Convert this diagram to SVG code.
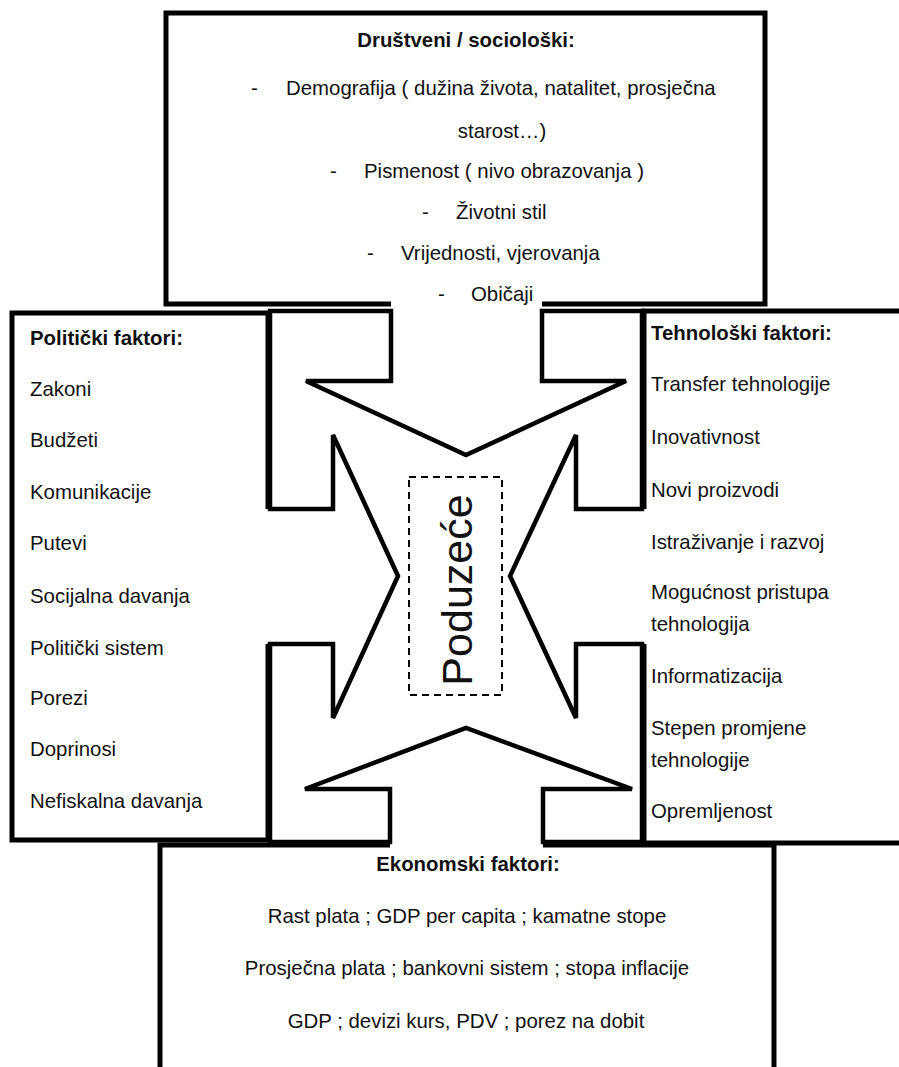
<svg xmlns="http://www.w3.org/2000/svg" width="899" height="1067" viewBox="0 0 899 1067">
<style>
.box{fill:none;stroke:#000;stroke-width:5;stroke-linejoin:miter}
.cross{fill:none;stroke:#000;stroke-width:4.5;stroke-linejoin:miter}
.t{font-family:"Liberation Sans",Arial,sans-serif;font-size:20.4px;fill:#111}
.h{font-weight:bold}
.c{text-anchor:middle}
.dash{fill:none;stroke:#000;stroke-width:2;stroke-dasharray:7 5}
</style>
<rect width="899" height="1067" fill="#fff"/>
<g id="connectors">
<polygon class="cross" points="270,311 391,311 391,381 306,381 466,455 626,381 542,381 542,311 642,311 642,509 576,509 576,435 510,576 576,718 576,644 642,644 642,842 543,842 543,789 632,789 466,728 305,789 390,789 390,842 270,842 270,644 333,644 333,718 398,576 333,435 333,509 270,509"/>
</g>
<g id="drustveni">
<path class="box" d="M391,304 L166,304 L166,13 L765,13 L765,304 L542,304"/>
<text class="t h c" x="466" y="47">Društveni / sociološki:</text>
<text class="t" x="251" y="95">-</text>
<text class="t" x="286" y="95">Demografija ( dužina života, natalitet, prosječna</text>
<text class="t c" x="502" y="138">starost…)</text>
<text class="t" x="330" y="178">-</text>
<text class="t" x="364" y="178">Pismenost ( nivo obrazovanja )</text>
<text class="t" x="422" y="219">-</text>
<text class="t" x="456" y="219">Životni stil</text>
<text class="t" x="367" y="260">-</text>
<text class="t" x="401" y="260">Vrijednosti, vjerovanja</text>
<text class="t" x="438" y="301">-</text>
<text class="t" x="471" y="301">Običaji</text>
</g>
<g id="politicki">
<path class="box" d="M268,509 L268,313 L12,313 L12,840 L268,840 L268,644"/>
<text class="t h" x="30" y="345">Politički faktori:</text>
<text class="t" x="30" y="396">Zakoni</text>
<text class="t" x="30" y="447">Budžeti</text>
<text class="t" x="30" y="499">Komunikacije</text>
<text class="t" x="30" y="550">Putevi</text>
<text class="t" x="30" y="603">Socijalna davanja</text>
<text class="t" x="30" y="655">Politički sistem</text>
<text class="t" x="30" y="705">Porezi</text>
<text class="t" x="30" y="756">Doprinosi</text>
<text class="t" x="30" y="808">Nefiskalna davanja</text>
</g>
<g id="tehnoloski">
<path class="box" d="M644,509 L644,311 L905,311 M644,644 L644,843 L905,843"/>
<text class="t h" x="651" y="340">Tehnološki faktori:</text>
<text class="t" x="651" y="391">Transfer tehnologije</text>
<text class="t" x="651" y="444">Inovativnost</text>
<text class="t" x="651" y="497">Novi proizvodi</text>
<text class="t" x="651" y="549">Istraživanje i razvoj</text>
<text class="t" x="651" y="599">Mogućnost pristupa</text>
<text class="t" x="651" y="631">tehnologija</text>
<text class="t" x="651" y="683">Informatizacija</text>
<text class="t" x="651" y="735">Stepen promjene</text>
<text class="t" x="651" y="767">tehnologije</text>
<text class="t" x="651" y="818">Opremljenost</text>
</g>
<g id="ekonomski">
<path class="box" d="M390,845 L160,845 L160,1075 M543,845 L774,845 L774,1075"/>
<text class="t h c" x="468" y="871">Ekonomski faktori:</text>
<text class="t c" x="467" y="923">Rast plata ; GDP per capita ; kamatne stope</text>
<text class="t c" x="467" y="975">Prosječna plata ; bankovni sistem ; stopa inflacije</text>
<text class="t c" x="466" y="1028">GDP ; devizi kurs, PDV ; porez na dobit</text>
</g>
<g id="poduzece">
<rect class="dash" x="409" y="477" width="93" height="218"/>
<text class="t c" style="font-size:43px" transform="translate(472,590) rotate(-90)">Poduzeće</text>
</g>
</svg>
